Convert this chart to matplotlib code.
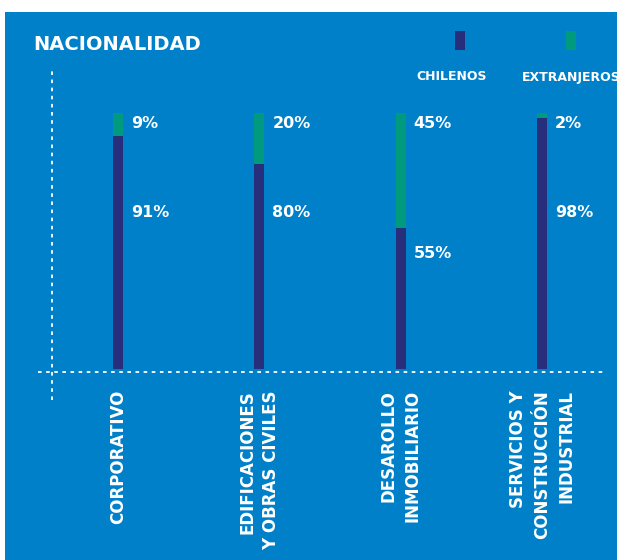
import matplotlib
matplotlib.use("Agg")
import matplotlib.pyplot as plt
from matplotlib.patches import Rectangle

# Data
categories = ["CORPORATIVO", "EDIFICACIONES\nY OBRAS CIVILES", "DESAROLLO\nINMOBILIARIO",
              "SERVICIOS Y\nCONSTRUCCIÓN\nINDUSTRIAL"]
chilenos = [91, 80, 55, 98]
extranjeros = [9, 20, 45, 2]
series_names = ["CHILENOS", "EXTRANJEROS"]

BLUE_BG = "#0080c9"
DARK = "#272f7d"
GREEN = "#009a7e"
W, H = 617, 560

fig = plt.figure(figsize=(W / 100, H / 100), dpi=100, facecolor="white")

# blue panel
fig.patches.append(Rectangle((5 / W, 0), 612 / W, 548 / H, transform=fig.transFigure,
                             facecolor=BLUE_BG, edgecolor="none", zorder=-5))

ax = fig.add_axes([38 / W, (H - 400) / H, 567 / W, 332 / H])
ax.set_facecolor("none")
ax.set_zorder(2)
ax.set_xlim(-0.566, 3.447)
ax.set_ylim(-12.1, 117.6)
for s in ax.spines.values():
    s.set_visible(False)
ax.set_xticks([])
ax.set_yticks([])

x = range(len(categories))
ax.bar(x, chilenos, width=0.071, color=DARK, zorder=3)
ax.bar(x, extranjeros, width=0.071, bottom=chilenos, color=GREEN, zorder=3)

# dotted axes
ax.axhline(-1.17, color="white", linestyle=(0, (2, 2.5)), linewidth=1.3, zorder=2)
ax.axvline(-0.467, color="white", linestyle=(0, (2, 2.5)), linewidth=1.3, zorder=2)

for i, (c, e) in enumerate(zip(chilenos, extranjeros)):
    ax.text(i + 0.092, 96, f"{e}%", color="white", fontsize=11.5, fontweight="bold",
            ha="left", va="center")
    ax.text(i + 0.092, min(c - 10, 61), f"{c}%", color="white", fontsize=11.5,
            fontweight="bold", ha="left", va="center")
    ax.text(i, -8.2, categories[i], color="white", fontsize=12, fontweight="bold",
            rotation=90, ha="center", va="top", multialignment="right",
            linespacing=1.45, clip_on=False)

# title
fig.text(33 / W, 1 - 44 / H, "NACIONALIDAD", color="white", fontsize=14,
         fontweight="bold", ha="left", va="center")

# legend
fig.patches.append(Rectangle((455 / W, 1 - 50 / H), 10 / W, 19 / H, transform=fig.transFigure,
                             facecolor=DARK, edgecolor="none"))
fig.patches.append(Rectangle((566 / W, 1 - 50 / H), 10 / W, 19 / H, transform=fig.transFigure,
                             facecolor=GREEN, edgecolor="none"))
fig.text(452 / W, 1 - 77 / H, series_names[0], color="white", fontsize=9,
         fontweight="bold", ha="center", va="center")
fig.text(522 / W, 1 - 77 / H, series_names[1], color="white", fontsize=9,
         fontweight="bold", ha="left", va="center")

fig.savefig("out.png", dpi=100, facecolor="white")
